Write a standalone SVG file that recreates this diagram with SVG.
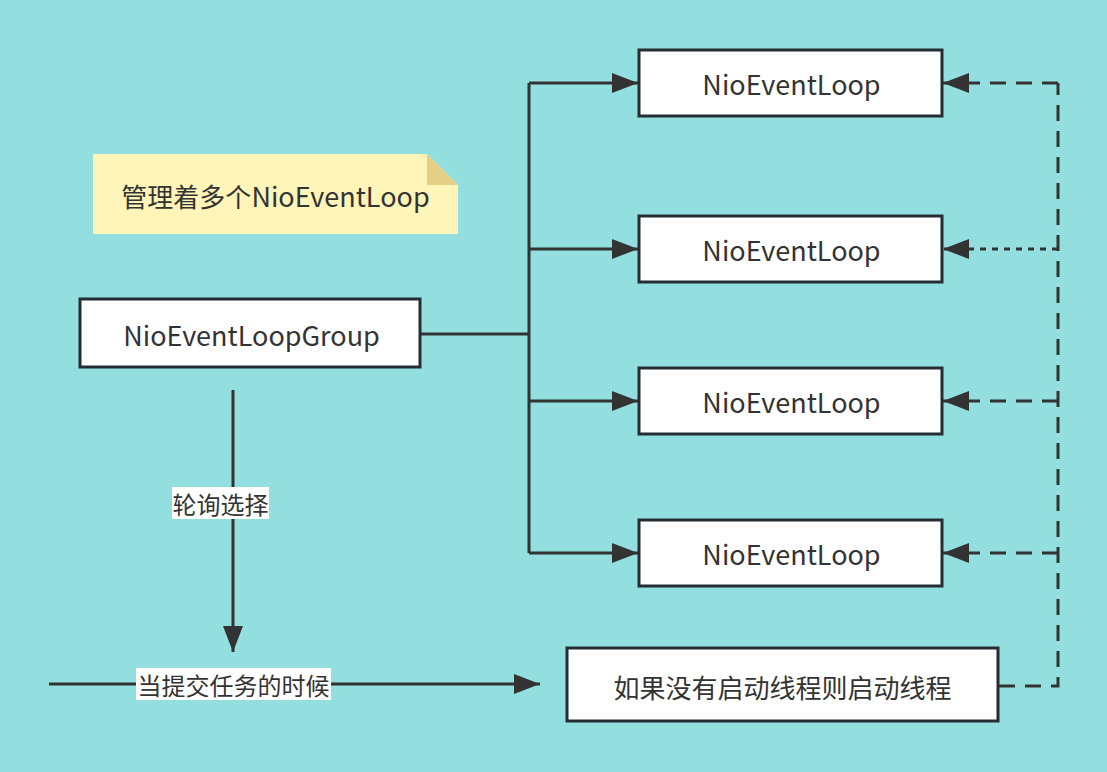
<svg xmlns="http://www.w3.org/2000/svg" width="1107" height="772" viewBox="0 0 1107 772">
<defs>
<style>
.node{fill:#ffffff;stroke:#262c33;stroke-width:3}
.t{font-family:"Noto Sans CJK SC","Noto Sans",sans-serif;font-size:26px;fill:#333333;text-anchor:middle;dominant-baseline:central}
.lat{font-size:27px}
.lbl{font-size:24px}
.c{fill:none;stroke:#333333;stroke-width:3}
.dash{stroke-dasharray:16 10}
.dot{stroke-dasharray:6 6}
</style>
<marker id="ah" viewBox="0 0 26 20" refX="26" refY="10" markerWidth="26" markerHeight="20" markerUnits="userSpaceOnUse" orient="auto">
<path d="M0,0 L26,10 L0,20 Z" fill="#333333"/>
</marker>
</defs>
<rect width="1107" height="772" fill="#93dfe0"/>
<g id="note">
<path d="M93,154 H427 L458,185 V234 H93 Z" fill="#fff5b8"/>
<path d="M427,154 L458,185 H427 Z" fill="#e3cf85"/>
<text class="t" x="275.5" y="195">管理着多个<tspan class="lat">NioEventLoop</tspan></text>
</g>
<g id="connectors">
<path class="c" d="M421,334 H529"/>
<path class="c" d="M529,83 V553"/>
<path class="c" d="M529,83 H638" marker-end="url(#ah)"/>
<path class="c" d="M529,249 H638" marker-end="url(#ah)"/>
<path class="c" d="M529,401 H638" marker-end="url(#ah)"/>
<path class="c" d="M529,553 H638" marker-end="url(#ah)"/>
<path class="c dash" d="M999,686 H1058 V83"/>
<path class="c dash" d="M1058,83 H943" marker-end="url(#ah)"/>
<path class="c dot" d="M1058,249 H943" marker-end="url(#ah)"/>
<path class="c dash" d="M1058,401 H943" marker-end="url(#ah)"/>
<path class="c dash" d="M1058,553 H943" marker-end="url(#ah)"/>
<path class="c" d="M233,390 V652" marker-end="url(#ah)"/>
<path class="c" d="M49,684 H540" marker-end="url(#ah)"/>
<rect x="172" y="487" width="97" height="32" fill="#ffffff"/>
<text class="t lbl" x="220.5" y="503">轮询选择</text>
<rect x="136" y="668" width="195" height="32" fill="#ffffff"/>
<text class="t lbl" x="233.5" y="684">当提交任务的时候</text>
</g>
<g id="group">
<rect class="node" x="80" y="299" width="340" height="68"/>
<text class="t lat" x="251.5" y="334">NioEventLoopGroup</text>
</g>
<g id="loop1">
<rect class="node" x="639" y="50" width="303" height="66"/>
<text class="t lat" x="791.5" y="83">NioEventLoop</text>
</g>
<g id="loop2">
<rect class="node" x="639" y="216" width="303" height="66"/>
<text class="t lat" x="791.5" y="249">NioEventLoop</text>
</g>
<g id="loop3">
<rect class="node" x="639" y="368" width="303" height="66"/>
<text class="t lat" x="791.5" y="401">NioEventLoop</text>
</g>
<g id="loop4">
<rect class="node" x="639" y="520" width="303" height="66"/>
<text class="t lat" x="791.5" y="553">NioEventLoop</text>
</g>
<g id="start">
<rect class="node" x="567" y="648" width="431" height="73"/>
<text class="t" x="782.5" y="686">如果没有启动线程则启动线程</text>
</g>
</svg>
